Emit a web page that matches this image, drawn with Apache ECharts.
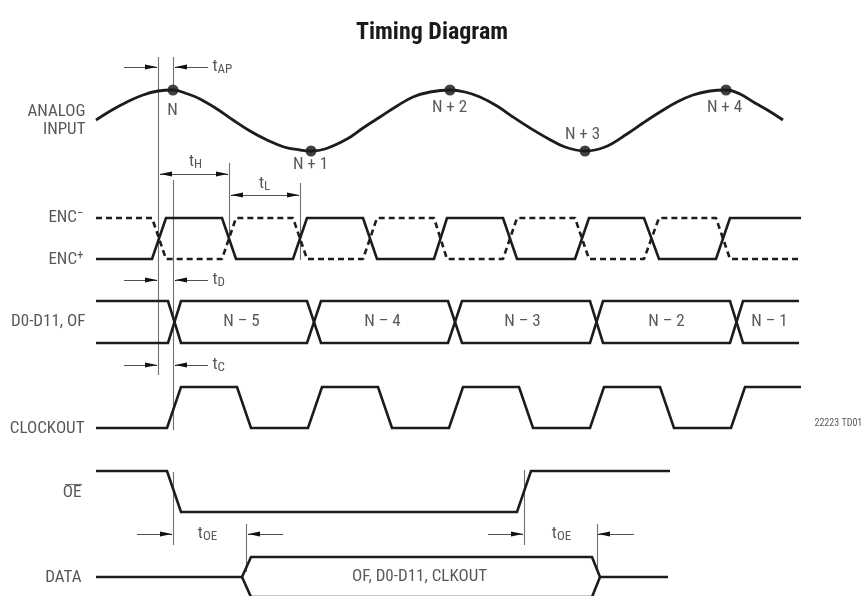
<!DOCTYPE html>
<html>
<head>
<meta charset="utf-8">
<script src="https://cdn.jsdelivr.net/npm/echarts@6/dist/echarts.min.js"></script>
<style>html,body{margin:0;padding:0;background:#fff}#c{width:864px;height:596px}</style>
</head>
<body>
<div id="c"></div>
<script>
// ---- waveform data (chart units, x: 0..864, y: 0..596 downward) ----
const analogInput = [[96,120],[112,110],[127,102],[143,95],[158,91],[173,90],[188,94],[200,99],[217,109],[233,120],[250,131],[267,140],[284,147],[300,150],[311,151],[325,149],[347,139],[363,128],[380,117],[397,106],[413,97],[430,92],[450,90],[465,92],[480,97],[497,106],[513,117],[530,128],[547,138],[565,147],[585,151],[605,147],[627,134],[643,123],[660,112],[677,102],[693,95],[710,91],[726,90],[740,94],[755,103],[769,111],[783,120]];
const samplePoints = [[173,90],[311,151],[450,90],[585,151],[726,90]];
const encPlus = [[96,259],[152,259],[166,218],[222,218],[236,259],[293,259],[307,218],[363,218],[377,259],[434,259],[447,218],[503,218],[517,259],[575,259],[589,218],[644,218],[659,259],[716,259],[730,218],[801,218]];
const encMinus = [[96,218],[152,218],[166,259],[222,259],[236,218],[293,218],[307,259],[363,259],[377,218],[434,218],[447,259],[503,259],[517,218],[575,218],[589,259],[644,259],[659,218],[716,218],[730,259],[801,259]];
const busTop = [[96,301],[168,301],[181,343],[307,343],[321,301],[448,301],[462,343],[590,343],[603,301],[730,301],[743,343],[799,343]];
const busBottom = [[96,343],[168,343],[181,301],[307,301],[321,343],[448,343],[462,301],[590,301],[603,343],[730,343],[743,301],[799,301]];
const clockOut = [[96,428],[167,428],[181,387],[237,387],[251,428],[308,428],[322,387],[378,387],[392,428],[449,428],[463,387],[519,387],[533,428],[590,428],[604,387],[660,387],[674,428],[731,428],[745,387],[801,387]];
const oeBar = [[96,471],[167,471],[181,512],[517,512],[531,471],[670,471]];
const dataUpper = [[96,577],[242,577],[251,557],[592,557],[600,577],[668,577]];
const dataLower = [[242,577],[251,597],[592,597],[600,577]];

// thin reference lines
const guideLines = [[[158,57],[158,375]],[[173,57],[173,85]],[[173,180],[173,430]],[[229,163],[229,240]],[[300,183],[300,260]],[[173,472],[173,545]],[[524,470],[524,545]],[[246,524],[246,572]],[[597,524],[597,572]],[[65,484],[82,484]]];
// single-headed arrows (head at second point)
const singleArrows = [[[124,67],[157,67]],[[208,67],[175,67]],[[124,280],[157,280]],[[208,280],[175,280]],[[124,365],[157,365]],[[208,365],[175,365]],[[137,534],[172,534]],[[283,534],[248,534]],[[488,534],[523,534]],[[634,534],[598,534]]];
// double-headed arrows
const doubleArrows = [[[160,174],[228,174]],[[231,195],[299,195]]];

// text labels: [text, x, y]   ("_" = subscript, "^" = superscript)
const rowLabels = [['ANALOG',86,112],['INPUT',86,130],['ENC^−',84,218],['ENC^+',84,260],['D0-D11, OF',86,322],['CLOCKOUT',85,429],['OE',82,493],['DATA',82,578]];
const centerLabels = [['N',173,111],['N + 1',311,165],['N + 2',450,108],['N + 3',583,135],['N + 4',725,108],['t_H',196,162],['t_L',265,184],['N – 5',242,322],['N – 4',383,322],['N – 3',523,322],['N – 2',667,322],['N – 1',770,322],['t_OE',208,534],['t_OE',562,534],['OF, D0-D11, CLKOUT',420,577]];
const leftLabels = [['t_AP',213,67],['t_D',213,280],['t_C',213,365]];
const noteLabels = [['22223 TD01',815,424]];

const FONT = "'Roboto Condensed','Roboto','Liberation Sans',sans-serif";
const INK = '#1c1c1c';
const TXT = '#2e2e2e';
const GUIDE = '#707070';
const ARROW = 'path://M0,0 M24,24 M12,12 L14.5,24 L9.5,24 Z';

function fmt(s) {
  if (s.indexOf('_') >= 0) { const p = s.split('_'); return '{m|' + p[0] + '}{s|' + p[1] + '}'; }
  if (s.indexOf('^') >= 0) { const p = s.split('^'); return '{m|' + p[0] + '}{u|' + p[1] + '}'; }
  return '{m|' + s + '}';
}
const rich = {
  m: {fontFamily: FONT, fontSize: 17, lineHeight: 20, verticalAlign: 'middle', color: TXT},
  s: {fontFamily: FONT, fontSize: 13, lineHeight: 13, verticalAlign: 'bottom', color: TXT},
  u: {fontFamily: FONT, fontSize: 13, lineHeight: 13, verticalAlign: 'top', color: TXT}
};
function textSeries(list, align, extraRich) {
  return {
    type: 'scatter', symbolSize: 1, silent: true,
    itemStyle: {color: 'rgba(0,0,0,0)'},
    data: list.map(d => ({value: [d[1], d[2]], name: d[0]})),
    label: {show: true, position: [0, 0], align: align, verticalAlign: 'middle',
      formatter: p => fmt(p.name), rich: Object.assign({}, rich, extraRich || {})}
  };
}
function wave(data, opts) {
  return Object.assign({type: 'line', data: data, symbol: 'none', silent: true,
    lineStyle: {color: INK, width: 2.6, join: 'miter'}}, opts || {});
}
// arrow heads: tiny segments ending at each arrow tip, so heads are drawn dark over grey shafts
function headSeg(p, q) {
  const dx = Math.sign(q[0] - p[0]);
  return {coords: [[q[0] - dx, q[1]], q]};
}
const heads = singleArrows.map(a => headSeg(a[0], a[1]))
  .concat(doubleArrows.map(a => headSeg(a[0], a[1])))
  .concat(doubleArrows.map(a => headSeg(a[1], a[0])));
const shafts = singleArrows.concat(doubleArrows).map(c => ({coords: c}));

const chart = echarts.init(document.getElementById('c'), null, {renderer: 'canvas'});
chart.setOption({
  animation: false,
  backgroundColor: '#fff',
  title: {text: 'Timing Diagram', left: 'center', top: 16,
    textStyle: {fontFamily: FONT, fontSize: 24, fontWeight: 'bold', color: '#1a1a1a'}},
  grid: {left: 0, top: 0, right: 0, bottom: 0},
  xAxis: {type: 'value', min: 0, max: 864, show: false},
  yAxis: {type: 'value', min: 0, max: 596, inverse: true, show: false},
  series: [
    {type: 'lines', coordinateSystem: 'cartesian2d', silent: true,
      lineStyle: {color: GUIDE, width: 1.1, opacity: 1},
      data: guideLines.map(c => ({coords: c}))},
    {type: 'lines', coordinateSystem: 'cartesian2d', silent: true,
      lineStyle: {color: '#505050', width: 1.1, opacity: 1},
      data: shafts},
    {type: 'lines', coordinateSystem: 'cartesian2d', silent: true,
      symbol: ['none', ARROW], symbolSize: 24,
      lineStyle: {color: '#111', width: 1, opacity: 1},
      data: heads},
    wave(analogInput, {smooth: 0.4, lineStyle: {color: INK, width: 2.8}}),
    wave(encMinus, {lineStyle: {color: INK, width: 2.6, type: [6, 4]}}),
    wave(encPlus),
    wave(busTop),
    wave(busBottom),
    wave(clockOut),
    wave(oeBar),
    wave(dataUpper),
    wave(dataLower),
    {type: 'scatter', data: samplePoints, symbolSize: 11, silent: true, itemStyle: {color: '#111'}},
    textSeries(rowLabels, 'right'),
    textSeries(centerLabels, 'center'),
    textSeries(leftLabels, 'left'),
    textSeries(noteLabels, 'left', {m: {fontFamily: FONT, fontSize: 10, lineHeight: 12, color: TXT}})
  ]
});
</script>
</body>
</html>
